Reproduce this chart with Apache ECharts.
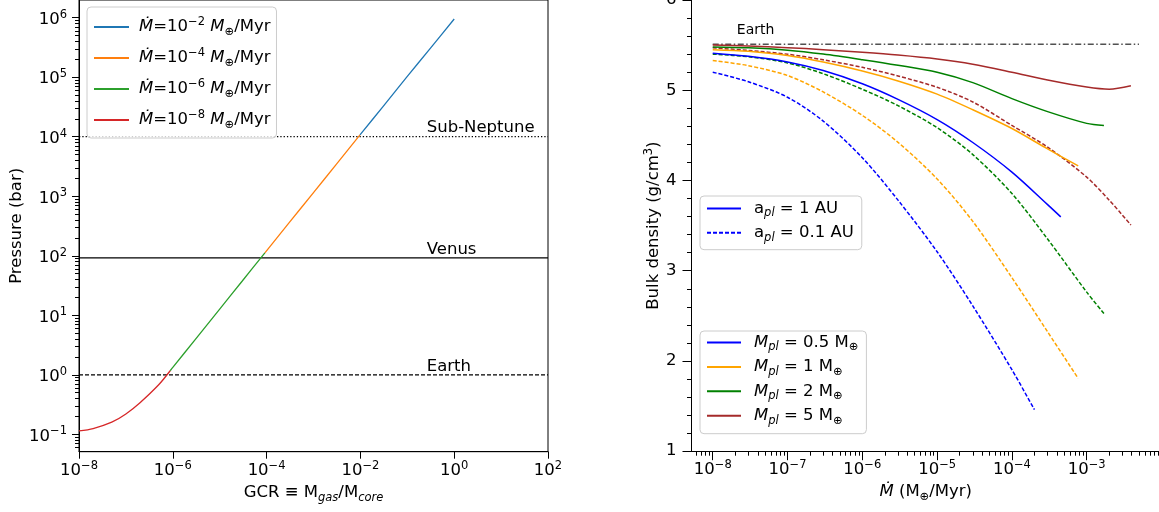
<!DOCTYPE html>
<html>
<head>
<meta charset="utf-8">
<script src="https://cdn.jsdelivr.net/npm/echarts@6.0.0/dist/echarts.min.js"></script>
<style>
html,body{margin:0;padding:0;background:#fff;}
#chart{width:1159px;height:512px;}
</style>
</head>
<body>
<div id="chart"></div>
<script>
// ================= LEFT PANEL: pressure vs GCR =================
const gcrTicks = [1e-8, 1e-6, 1e-4, 1e-2, 1, 1e2];
const pressureTicks = [1e-1, 1, 1e1, 1e2, 1e3, 1e4, 1e5, 1e6];
const mdotNames = ['Mdot 1e-2', 'Mdot 1e-4', 'Mdot 1e-6', 'Mdot 1e-8'];
const mdotExponents = ['\u22122', '\u22124', '\u22126', '\u22128'];
const mdotColors = ['#1f77b4', '#ff7f0e', '#2ca02c', '#d62728'];

const gcrM2 = [9.8e-3, 3e-2, 1e-1, 3e-1, 1];
const presM2 = [1.07e4, 3.18e4, 1.03e5, 2.96e5, 9.5e5];
const gcrM4 = [9.2e-5, 3e-4, 1e-3, 3e-3, 9.8e-3];
const presM4 = [112, 356, 1150, 3370, 1.07e4];
const gcrM6 = [8.8e-7, 1e-6, 3e-6, 1e-5, 3e-5, 9.2e-5];
const presM6 = [1.17, 1.33, 3.9, 12.7, 37.3, 112];
const gcrM8 = [1e-8, 2e-8, 5e-8, 1e-7, 2e-7, 5e-7, 8.8e-7];
const presM8 = [0.114, 0.125, 0.16, 0.22, 0.34, 0.68, 1.17];

const refNames = ['Sub-Neptune', 'Venus', 'Earth'];
const refPressures = [1e4, 92, 1];
const refStyles = ['dotted', 'solid', 'dashed'];

// ================= RIGHT PANEL: bulk density vs Mdot =================
const mdotTicks = [1e-8, 1e-7, 1e-6, 1e-5, 1e-4, 1e-3];
const massValues = ['0.5', '1', '2', '5'];
const massNames = ['M_pl = 0.5', 'M_pl = 1', 'M_pl = 2', 'M_pl = 5'];
const massColors = ['#0000ff', '#ffa500', '#008000', '#a52a2a'];
const orbitNames = ['a_pl = 1 AU', 'a_pl = 0.1 AU'];
const orbitValues = ['1', '0.1'];
const earthDensity = 5.51;
const earthMdot = [1e-8, 5e-3];

// a_pl = 1 AU (solid)
const mdot05a = [1e-8, 3e-8, 1e-7, 3e-7, 1e-6, 3e-6, 1e-5, 3e-5, 1e-4, 3e-4, 4.5e-4];
const rho05a  = [5.41, 5.376, 5.314, 5.218, 5.072, 4.899, 4.675, 4.421, 4.093, 3.733, 3.597];
const mdot1a  = [1e-8, 3e-8, 1e-7, 3e-7, 1e-6, 3e-6, 1e-5, 3e-5, 1e-4, 3e-4, 7.7e-4];
const rho1a   = [5.45, 5.431, 5.384, 5.312, 5.213, 5.103, 4.957, 4.784, 4.576, 4.35, 4.161];
const mdot2a  = [1e-8, 3e-8, 1e-7, 3e-7, 1e-6, 3e-6, 1e-5, 3e-5, 1e-4, 3e-4, 1e-3, 1.7e-3];
const rho2a   = [5.48, 5.47, 5.444, 5.401, 5.339, 5.277, 5.199, 5.084, 4.907, 4.763, 4.633, 4.61];
const mdot5a  = [1e-8, 3e-8, 1e-7, 3e-7, 1e-6, 3e-6, 1e-5, 3e-5, 1e-4, 3e-4, 1e-3, 2e-3, 3.9e-3];
const rho5a   = [5.50, 5.49, 5.472, 5.45, 5.421, 5.39, 5.346, 5.288, 5.20, 5.114, 5.036, 5.012, 5.05];
// a_pl = 0.1 AU (dashed)
const mdot05b = [1e-8, 3e-8, 1e-7, 3e-7, 1e-6, 3e-6, 1e-5, 3e-5, 1e-4, 2e-4];
const rho05b  = [5.20, 5.094, 4.922, 4.658, 4.252, 3.782, 3.21, 2.61, 1.903, 1.46];
const mdot1b  = [1e-8, 3e-8, 1e-7, 3e-7, 1e-6, 3e-6, 1e-5, 3e-5, 1e-4, 3e-4, 7.7e-4];
const rho1b   = [5.33, 5.272, 5.163, 4.981, 4.721, 4.423, 4.017, 3.547, 2.923, 2.323, 1.806];
const mdot2b  = [1e-8, 3e-8, 1e-7, 3e-7, 1e-6, 3e-6, 1e-5, 3e-5, 1e-4, 3e-4, 1e-3, 1.7e-3];
const rho2b   = [5.40, 5.371, 5.303, 5.183, 5.011, 4.829, 4.585, 4.287, 3.855, 3.351, 2.763, 2.526];
const mdot5b  = [1e-8, 3e-8, 1e-7, 3e-7, 1e-6, 3e-6, 1e-5, 3e-5, 1e-4, 3e-4, 1e-3, 2e-3, 3.9e-3];
const rho5b   = [5.47, 5.441, 5.399, 5.337, 5.254, 5.158, 5.033, 4.87, 4.61, 4.37, 4.037, 3.782, 3.506];

// ================= helpers =================
const FONT = 'DejaVu Sans';
const FS = 16.5;
const SFS = 11.5;
function pairs(xs, ys) { return xs.map((x, i) => [x, ys[i]]); }
function minorLog(lo, hi) {
  const out = [];
  for (let k = lo; k <= hi; k++) for (let m = 2; m <= 9; m++) out.push(m * Math.pow(10, k));
  return out;
}
function expLabel(v) {
  const e = Math.round(Math.log10(v));
  return '{n|10}{sup|' + String(e).replace('-', '\u2212') + '}';
}
const RICH = {
  n:   {fontFamily: FONT, fontSize: FS, lineHeight: 22, color: '#000'},
  it:  {fontFamily: FONT, fontSize: FS, fontStyle: 'italic', lineHeight: 22, color: '#000'},
  sup: {fontFamily: FONT, fontSize: SFS, lineHeight: 10, verticalAlign: 'top', color: '#000'},
  sub: {fontFamily: FONT, fontSize: SFS, lineHeight: 10.6, verticalAlign: 'bottom', color: '#000'},
  subit: {fontFamily: FONT, fontSize: SFS, fontStyle: 'italic', lineHeight: 10.6, verticalAlign: 'bottom', color: '#000'},
  sp5: {width: 5, fontSize: FS, lineHeight: 22},
  sp8: {width: 8, fontSize: FS, lineHeight: 22}
};
const legendText = {};
mdotNames.forEach((n, i) => {
  legendText[n] = '{sp5|\u00a0}{it|\u1E40}{n|=10}{sup|' + mdotExponents[i] + '}{n|\u00a0}{it|M}{sub|\u2295}{n|/Myr}';
});
massNames.forEach((n, i) => {
  legendText[n] = '{sp8|\u00a0}{it|M}{subit|pl}{n| = ' + massValues[i] + ' M}{sub|\u2295}';
});
orbitNames.forEach((n, i) => {
  legendText[n] = '{sp8|\u00a0}{n|a}{subit|pl}{n| = ' + orbitValues[i] + ' AU}';
});

const SMOOTH = 0.3;
const series = [];
// left reference lines
refNames.forEach((name, i) => {
  series.push({
    name: name, type: 'line', xAxisIndex: 0, yAxisIndex: 0, symbol: 'none', silent: true,
    data: [[gcrTicks[0], refPressures[i]], [gcrTicks[gcrTicks.length - 1], refPressures[i]]],
    lineStyle: {color: '#000', width: 1.3, type: refStyles[i] === 'dotted' ? [1.3, 2] : (refStyles[i] === 'dashed' ? [4, 2] : 'solid')},
    z: 2
  });
});
series.push({
  type: 'scatter', xAxisIndex: 0, yAxisIndex: 0, symbolSize: 0, silent: true,
  data: refNames.map((n, i) => [0.26, refPressures[i], n]),
  label: {show: true, position: [0, 0], align: 'left', verticalAlign: 'bottom', opacity: 1, textBorderWidth: 0,
    formatter: p => p.value[2], fontFamily: FONT, fontSize: FS, color: '#000'}
});
// left curves
const leftX = [gcrM2, gcrM4, gcrM6, gcrM8];
const leftY = [presM2, presM4, presM6, presM8];
mdotNames.forEach((name, i) => {
  series.push({
    name: name, type: 'line', xAxisIndex: 0, yAxisIndex: 0, symbol: 'none', showSymbol: false,
    smooth: SMOOTH,
    data: pairs(leftX[i], leftY[i]),
    lineStyle: {color: mdotColors[i], width: 1.3}, itemStyle: {color: mdotColors[i]}, z: 3
  });
});
// right: earth line + label
series.push({
  name: 'Earth density', type: 'line', xAxisIndex: 1, yAxisIndex: 2, symbol: 'none', silent: true,
  data: [[earthMdot[0], earthDensity], [earthMdot[1], earthDensity]],
  lineStyle: {color: '#333', width: 1.5, type: [6, 2.5, 1.5, 2.5], opacity: 0.85}, z: 2
});
series.push({
  type: 'scatter', xAxisIndex: 1, yAxisIndex: 2, symbolSize: 0, silent: true,
  data: [[2.1e-8, earthDensity, 'Earth']],
  label: {show: true, position: [0, -6.5], align: 'left', verticalAlign: 'bottom', opacity: 1, textBorderWidth: 0,
    formatter: p => p.value[2], fontFamily: FONT, fontSize: 14, color: '#000'}
});
// right curves
const rightXa = [mdot05a, mdot1a, mdot2a, mdot5a];
const rightYa = [rho05a, rho1a, rho2a, rho5a];
const rightXb = [mdot05b, mdot1b, mdot2b, mdot5b];
const rightYb = [rho05b, rho1b, rho2b, rho5b];
massNames.forEach((name, i) => {
  series.push({
    name: name + ' (0.1 AU)', type: 'line', xAxisIndex: 1, yAxisIndex: 2, symbol: 'none', showSymbol: false,
    smooth: SMOOTH, data: pairs(rightXb[i], rightYb[i]),
    lineStyle: {color: massColors[i], width: 1.5, type: [4, 2]}, itemStyle: {color: massColors[i]}, z: 3
  });
});
massNames.forEach((name, i) => {
  series.push({
    name: name, type: 'line', xAxisIndex: 1, yAxisIndex: 2, symbol: 'none', showSymbol: false,
    smooth: SMOOTH, data: pairs(rightXa[i], rightYa[i]),
    lineStyle: {color: massColors[i], width: 1.5}, itemStyle: {color: massColors[i]}, z: 4
  });
});
// legend proxies for orbit styles
orbitNames.forEach((name, i) => {
  series.push({
    name: name, type: 'line', xAxisIndex: 1, yAxisIndex: 2, symbol: 'none', data: [],
    lineStyle: {color: massColors[0], width: 1.5, type: i === 0 ? 'solid' : [4, 2]}, itemStyle: {color: massColors[0]}
  });
});

const legendBase = {
  orient: 'vertical', selectedMode: false,
  backgroundColor: 'rgba(255,255,255,0.8)', borderColor: '#cccccc', borderWidth: 1, borderRadius: 4,
  formatter: n => legendText[n],
  textStyle: {fontFamily: FONT, fontSize: FS, color: '#000', rich: RICH},
  itemStyle: {color: 'rgba(0,0,0,0)', borderWidth: 0}
};

const axisLabelBase = {fontFamily: FONT, fontSize: FS, color: '#000', rich: RICH};

const option = {
  animation: false,
  backgroundColor: '#fff',
  textStyle: {fontFamily: FONT},
  grid: [
    {left: 79, width: 469, top: 0, height: 451.7, show: true, borderColor: '#000', borderWidth: 1,
     backgroundColor: 'rgba(0,0,0,0)', containLabel: false, outerBoundsMode: 'none'},
    {left: 691.5, width: 468.5, top: 0, height: 451.2, show: false, containLabel: false, outerBoundsMode: 'none'}
  ],
  xAxis: [
    {type: 'log', gridIndex: 0, min: 0.99999e-8, max: 100.001, position: 'bottom',
     axisLine: {show: true, lineStyle: {color: '#000', width: 1}},
     axisTick: {show: true, length: 7, customValues: gcrTicks, lineStyle: {color: '#000'}},
     axisLabel: Object.assign({customValues: gcrTicks, formatter: expLabel, margin: 8}, axisLabelBase),
     splitLine: {show: false}, minorTick: {show: false},
     name: '{n|GCR \u2261 M}{subit|gas}{n|/M}{subit|core}', nameLocation: 'middle', nameGap: 28,
     nameTextStyle: {rich: RICH}},
    {type: 'log', gridIndex: 1, min: 5.2e-9, max: 9.55e-3, position: 'bottom',
     axisLine: {show: true, lineStyle: {color: '#000', width: 1}},
     axisTick: {show: true, length: 9, customValues: mdotTicks, lineStyle: {color: '#000'}},
     axisLabel: Object.assign({customValues: mdotTicks, formatter: expLabel, margin: 8}, axisLabelBase),
     splitLine: {show: false},
     name: '{it|\u1E40}{n| (M}{sub|\u2295}{n|/Myr)}', nameLocation: 'middle', nameGap: 28,
     nameTextStyle: {rich: RICH}},
    {type: 'log', gridIndex: 1, min: 5.2e-9, max: 9.55e-3, position: 'bottom',
     axisLine: {show: false}, axisLabel: {show: false}, splitLine: {show: false},
     axisTick: {show: true, length: 4.5, customValues: minorLog(-9, -3), lineStyle: {color: '#000'}}}
  ],
  yAxis: [
    {type: 'log', gridIndex: 0, min: 0.05105, max: 1.98e6, position: 'left',
     axisLine: {show: true, lineStyle: {color: '#000', width: 1}},
     axisTick: {show: true, length: 7, customValues: pressureTicks, lineStyle: {color: '#000'}},
     axisLabel: Object.assign({customValues: pressureTicks, formatter: expLabel, margin: 12, padding: [4, 0, 0, 0]}, axisLabelBase),
     splitLine: {show: false},
     name: 'Pressure (bar)', nameLocation: 'middle', nameGap: 54,
     nameTextStyle: {fontFamily: FONT, fontSize: FS, color: '#000'}},
    {type: 'log', gridIndex: 0, min: 0.05105, max: 1.98e6, position: 'left',
     axisLine: {show: false}, axisLabel: {show: false}, splitLine: {show: false},
     axisTick: {show: true, length: 4, customValues: minorLog(-2, 6), lineStyle: {color: '#000'}}},
    {type: 'value', gridIndex: 1, min: 1, max: 6, interval: 1, position: 'left',
     axisLine: {show: true, lineStyle: {color: '#000', width: 1}},
     axisTick: {show: true, length: 9, lineStyle: {color: '#000'}},
     minorTick: {show: true, splitNumber: 5, length: 4.5, lineStyle: {color: '#000'}},
     axisLabel: {fontFamily: FONT, fontSize: FS, color: '#000', margin: 15},
     splitLine: {show: false}, minorSplitLine: {show: false},
     name: '{n|Bulk density (g/cm}{sup|3}{n|)}', nameLocation: 'middle', nameGap: 26,
     nameTextStyle: {rich: RICH}}
  ],
  legend: [
    Object.assign({}, legendBase, {data: mdotNames, left: 87, top: 7, itemWidth: 35, itemHeight: 12, itemGap: 9, padding: [9, 6, 7, 6]}),
    Object.assign({}, legendBase, {data: orbitNames, left: 700, top: 196, itemWidth: 34, itemHeight: 12, itemGap: 4.7, padding: [4, 8, 6, 6]}),
    Object.assign({}, legendBase, {data: massNames, left: 700, top: 331, itemWidth: 34, itemHeight: 12, itemGap: 4.9, padding: [3, 8, 7, 6]})
  ],
  series: series
};

const chart = echarts.init(document.getElementById('chart'));
chart.setOption(option);
</script>
</body>
</html>
